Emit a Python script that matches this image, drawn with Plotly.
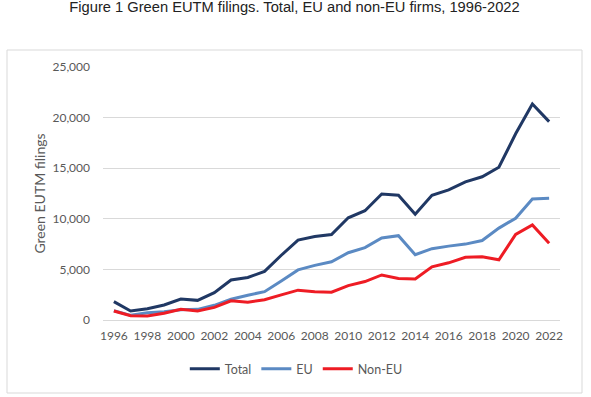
import plotly.graph_objects as go

years = list(range(1996, 2023))
total = [1810, 890, 1120, 1480, 2070, 1940, 2700, 3950, 4200,
         4800, 6400, 7900, 8250, 8450, 10100, 10800, 12450, 12320, 10440,
         12320, 12850, 13650, 14150, 15100, 18400, 21350, 19600]
eu = [920, 460, 720, 820, 1020, 1050, 1450, 2050, 2450,
      2800, 3850, 4950, 5400, 5750, 6650, 7150, 8100, 8330, 6450,
      7050, 7300, 7500, 7850, 9080, 10050, 11950, 12020]
non_eu = [890, 430, 400, 660, 1050, 890, 1250, 1900, 1750,
          2000, 2480, 2950, 2800, 2750, 3400, 3800, 4450, 4100, 4050,
          5250, 5650, 6200, 6250, 5950, 8450, 9400, 7580]

series = [("Total", total, "#203864"), ("EU", eu, "#5b8ac3"), ("Non-EU", non_eu, "#ee1c24")]

fig = go.Figure()
for name, vals, col in series:
    fig.add_trace(go.Scatter(x=years, y=vals, name=name, mode="lines",
                             line=dict(color=col, width=3)))

tick_font = dict(family="Lato, Open Sans, sans-serif", size=12, color="#595959")

fig.update_layout(
    width=591, height=397,
    margin=dict(l=103, r=31, t=67, b=77),
    paper_bgcolor="white", plot_bgcolor="white",
    title=dict(text="Figure 1 Green EUTM filings. Total, EU and non-EU firms, 1996-2022",
               x=294.5 / 591, xanchor="center", y=1 - 7 / 397, yanchor="middle", yref="container",
               font=dict(family="Liberation Sans, Arial, sans-serif", size=14.7, color="#222")),
    xaxis=dict(range=[1995.35, 2022.65], tick0=1996, dtick=2, showgrid=False,
               showline=True, linecolor="#d9d9d9", linewidth=1, ticks="",
               tickfont=tick_font, zeroline=False, ticklabelstandoff=5),
    yaxis=dict(range=[0, 25000], dtick=5000, tickformat=",", showgrid=True,
               gridcolor="#d9d9d9", gridwidth=1, zeroline=False, ticks="",
               tickfont=tick_font, ticklabelstandoff=12,
               title=dict(text="Green EUTM filings", standoff=3,
                          font=dict(family="Lato, Open Sans, sans-serif", size=14, color="#595959"))),
    legend=dict(orientation="h", x=0.423, xanchor="center", y=(320 - 369) / 253, yanchor="middle",
                font=dict(family="Lato, Open Sans, sans-serif", size=12.5, color="#595959"),
                itemwidth=30, tracegroupgap=0),
    showlegend=True,
)

fig.add_shape(type="rect", xref="paper", yref="paper",
              x0=(7 - 103) / 457, x1=(582 - 103) / 457,
              y0=(320 - 393) / 253, y1=(320 - 50) / 253,
              line=dict(color="#d9d9d9", width=1), fillcolor="rgba(0,0,0,0)", layer="below")

fig.write_html("out.html", config={"displayModeBar": False},
               post_script="document.body.style.margin='0';document.body.style.overflow='hidden';")
